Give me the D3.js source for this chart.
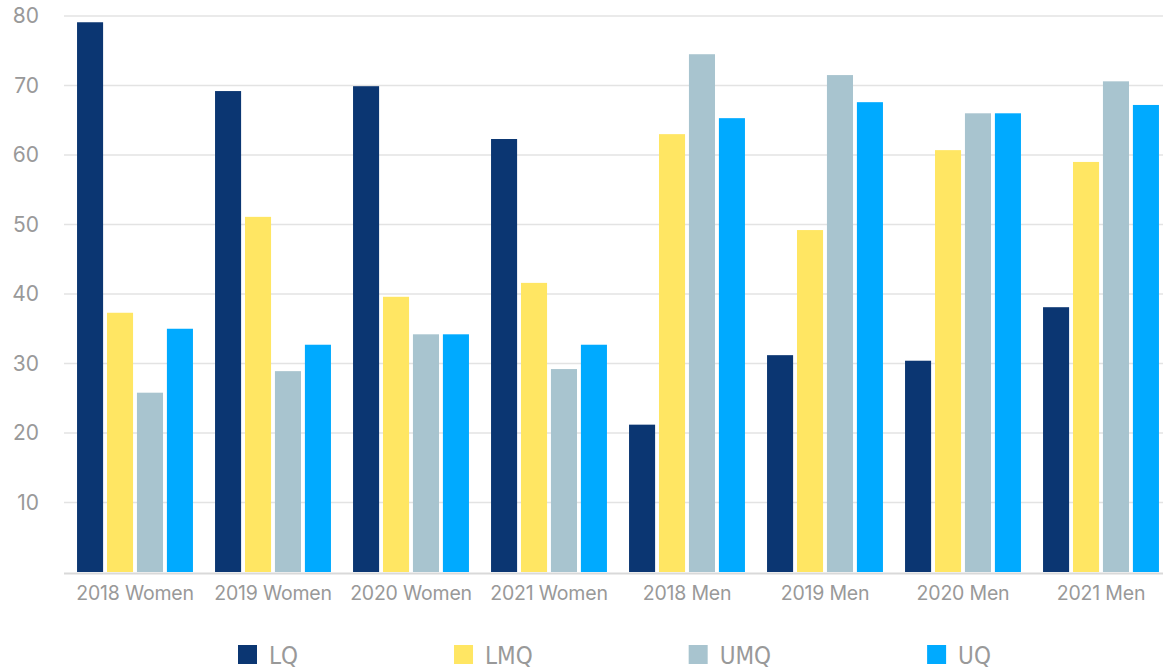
<!DOCTYPE html>
<html>
<head>
<meta charset="utf-8">
<script src="https://cdn.jsdelivr.net/npm/d3@7"></script>
<style>
  body { margin: 0; background: #fff; }
  svg text { fill: #999; }
</style>
</head>
<body>
<div id="container"></div>
<script>
const groups = ["2018 Women","2019 Women","2020 Women","2021 Women","2018 Men","2019 Men","2020 Men","2021 Men"];
const series = ["LQ","LMQ","UMQ","UQ"];
const LQ  = [79.1, 69.2, 69.9, 62.3, 21.2, 31.2, 30.4, 38.1];
const LMQ = [37.3, 51.1, 39.6, 41.6, 63.0, 49.2, 60.7, 59.0];
const UMQ = [25.8, 28.9, 34.2, 29.2, 74.5, 71.5, 66.0, 70.6];
const UQ  = [35.0, 32.7, 34.2, 32.7, 65.3, 67.6, 66.0, 67.2];
const yTicks = [10, 20, 30, 40, 50, 60, 70, 80];
const colors = ["#0b3672", "#ffe663", "#a8c4cf", "#00aaff"];

const widthSVG = 1163,
    heightSVG = 670,
    plotLeft = 64,
    plotRight = 1163,
    plotTop = 16,
    plotBottom = 572;

const values = [LQ, LMQ, UMQ, UQ];
const data = groups.map((g, i) => ({group: g, vals: series.map((s, j) => ({key: s, value: values[j][i]}))}));

const svg = d3.select('#container')
    .append('svg')
    .attr('width', widthSVG)
    .attr('height', heightSVG);

// band range runs a little past the right edge, like the original
const x0 = d3.scaleBand()
    .domain(groups)
    .range([66, 1170])
    .paddingInner(0.16)
    .paddingOuter(0.08);

const x1 = d3.scaleBand()
    .domain(series)
    .range([0, x0.bandwidth()])
    .paddingInner(0.13);

const y = d3.scaleLinear()
    .domain([0, 80])
    .range([plotBottom, plotTop]);

const color = d3.scaleOrdinal().domain(series).range(colors);

// gridlines
svg.append('g')
    .selectAll('line')
    .data(yTicks)
    .enter()
    .append('line')
    .attr('x1', plotLeft)
    .attr('x2', plotRight)
    .attr('y1', d => y(d))
    .attr('y2', d => y(d))
    .attr('stroke', '#e3e3e3')
    .attr('stroke-width', 1.5);

// y axis labels
const yAxis = svg.append('g')
    .attr('transform', `translate(39,0)`)
    .call(d3.axisLeft(y).tickValues(yTicks).tickSize(0).tickPadding(0));
yAxis.select('.domain').remove();
yAxis.selectAll('text')
    .attr('font-family', 'Inter, sans-serif')
    .attr('font-size', 21)
    .style('fill', '#999');

// bars
svg.append('g')
    .selectAll('g')
    .data(data)
    .enter()
    .append('g')
    .attr('transform', d => `translate(${x0(d.group)},0)`)
    .selectAll('rect')
    .data(d => d.vals)
    .enter()
    .append('rect')
    .attr('x', d => x1(d.key))
    .attr('y', d => y(d.value))
    .attr('width', x1.bandwidth())
    .attr('height', d => y(0) - y(d.value))
    .attr('fill', d => color(d.key));

// x axis
const xAxis = svg.append('g')
    .attr('transform', `translate(0,${plotBottom + 1})`)
    .call(d3.axisBottom(x0).tickSize(0).tickPadding(13));
xAxis.select('.domain')
    .attr('d', `M${plotLeft},0.5H${plotRight}`)
    .attr('stroke', '#d9d9d9')
    .attr('stroke-width', 2);
xAxis.selectAll('text')
    .attr('font-family', 'Inter, sans-serif')
    .attr('font-size', 19.5)
    .attr('letter-spacing', '-0.2px')
    .style('fill', '#999');

// legend: items laid out one after another with a fixed gap
const legend = svg.append('g')
    .attr('transform', 'translate(0,645)');

let lx = 238;
series.forEach(s => {
    const item = legend.append('g').attr('transform', `translate(${lx},0)`);
    item.append('rect')
        .attr('width', 19)
        .attr('height', 19)
        .attr('fill', color(s));
    const t = item.append('text')
        .attr('x', 31)
        .attr('y', 19)
        .attr('font-family', '"Liberation Sans Narrow", "DejaVu Sans Condensed", sans-serif')
        .attr('font-size', 24)
        .text(s);
    lx += 31 + t.node().getComputedTextLength() + 156;
});
</script>
</body>
</html>
